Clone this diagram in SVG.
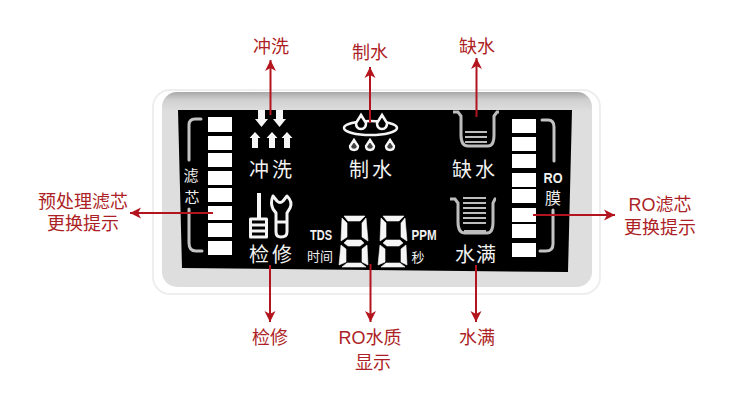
<svg xmlns="http://www.w3.org/2000/svg" width="750" height="406" viewBox="0 0 750 406">
<style>
.lbl{font-family:"Liberation Sans","Noto Sans CJK SC",sans-serif;font-size:18px;fill:#ad1f26;text-anchor:middle}
.lcd{font-family:"Noto Sans CJK SC",sans-serif;font-size:20px;fill:#f2f2f2;text-anchor:middle}
.lcds{font-family:"Noto Sans CJK SC",sans-serif;font-size:16px;fill:#eee;text-anchor:middle}
.lcdt{font-family:"Noto Sans CJK SC",sans-serif;font-size:13px;fill:#eee;text-anchor:middle}
.lat{font-family:"Liberation Sans",sans-serif;font-weight:700;fill:#f2f2f2;text-anchor:middle}
.b{fill:#fff}
.ln{fill:none;stroke:#c4c4c4;stroke-width:3;stroke-linecap:round;stroke-linejoin:round}
.tk{fill:none;stroke:#bdbdbd;stroke-width:3}
.ic{fill:none;stroke:#f4f4f4;stroke-width:3;stroke-linejoin:round}
.sf{fill:#f6f6f6}
.arr{stroke:#b3141d;stroke-width:2;fill:none}
</style>
<defs>
<marker id="ah" markerUnits="userSpaceOnUse" markerWidth="12" markerHeight="12" refX="11" refY="6" orient="auto"><path d="M0 0.500L11 6L0 11.500L3 6Z" fill="#b3141d"/></marker>
<linearGradient id="band" x1="0" y1="0" x2="0" y2="1"><stop offset="0" stop-color="#a8a8a8"/><stop offset=".04" stop-color="#d0d0d0"/><stop offset=".1" stop-color="#dedede"/><stop offset="1" stop-color="#dedede"/></linearGradient>
<g id="d8"><path class="sf" stroke="#f6f6f6" stroke-width=".6" d="M6 0H27L22 5H10ZM4 2L9 7V21L3 25ZM28 2L30 25L24 21V7ZM9 24H23L26 27L22 30H10L6 27ZM3 29L8 33V46L1 49ZM29 29L30 49L24 46V33ZM9 47H23L28 51H4Z"/></g>
</defs>
<rect width="750" height="406" fill="#fff"/>
<g id="panel">
<rect x="153" y="90" width="447" height="204" rx="17" fill="#fff" stroke="#eeeeee" stroke-width="2"/>
<rect x="162" y="92" width="430" height="195" rx="15" fill="url(#band)"/>
<path d="M178 110H572L568 272L182 268Z" fill="#000"/>
</g>
<g id="filter-left">
<g class="b"><rect x="208" y="117" width="24" height="15"/><rect x="208" y="136" width="24" height="14"/><rect x="208" y="153" width="24" height="14"/><rect x="208" y="171" width="24" height="14"/><rect x="208" y="188" width="24" height="14"/><rect x="208" y="206" width="24" height="14"/><rect x="208" y="223" width="24" height="14"/><rect x="208" y="241" width="24" height="14"/></g>
<path class="ln" d="M201 119H195Q189 119 189 125V160M189 209V243Q189 251 196 251H202"/>
<text class="lcds" x="191" y="181" style="font-size:15px">滤</text><text class="lcds" x="192" y="203" style="font-size:15px">芯</text>
</g>
<g id="filter-right">
<g class="b"><rect x="512" y="119" width="24" height="14"/><rect x="512" y="137" width="24" height="14"/><rect x="512" y="154" width="24" height="14"/><rect x="512" y="173" width="24" height="14"/><rect x="512" y="189" width="24" height="14"/><rect x="512" y="208" width="24" height="14"/><rect x="512" y="224" width="24" height="14"/><rect x="512" y="243" width="24" height="14"/></g>
<path class="ln" d="M542 120H548Q554 120 554 127V161M553 210V244Q553 251 546 251H540"/>
<text class="lat" x="553" y="183" font-size="15" textLength="19" lengthAdjust="spacingAndGlyphs">RO</text>
<text class="lcds" x="553" y="204">膜</text>
</g>
<g id="flush">
<path class="sf" d="M258 110H265V119H268L261.500 127L255 119H258ZM276 110H283V119H286L279.500 127L273 119H276ZM252 148V138H249.500L255 132L260.500 138H258V148ZM269 148V138H266.500L272 132L277.500 138H275V148ZM284 148V138H281.500L287 132L292.500 138H290V148Z"/>
<text class="lcd" x="272" y="177" letter-spacing="3">冲洗</text>
</g>
<g id="make-water">
<ellipse cx="370.500" cy="128" rx="26.500" ry="7" fill="none" stroke="#f4f4f4" stroke-width="2.600"/>
<path fill="#000" stroke="#f6f6f6" stroke-width="2.600" d="M361 115L366 123Q366 129 361 129Q356 129 356 123ZM382 115L387 123Q387 129 382 129Q377 129 377 123Z"/>
<path fill="#444" stroke="#f6f6f6" stroke-width="2.400" d="M354 140L358 146Q358 150 354 150Q350 150 350 146ZM370 140L374 146Q374 150 370 150Q366 150 366 146ZM390 140L394 146Q394 150 390 150Q386 150 386 146Z"/>
<text class="lcd" x="372" y="177" letter-spacing="3">制水</text>
</g>
<g id="low-water">
<path class="tk" d="M453 112H458L461 116V135Q461 146 468 146H488Q494 146 494 135V116L497 112H499"/>
<path class="tk" style="stroke-width:2" d="M465 132H487M465 137H487M465 142H487"/>
<text class="lcd" x="475" y="177" letter-spacing="3">缺水</text>
</g>
<g id="service">
<rect x="257" y="193" width="4" height="25" fill="#f6f6f6"/>
<path class="ic" d="M250.500 219H266.500V237H250.500ZM250.500 225H266.500M250.500 231H266.500"/>
<path class="ic" d="M273 196L277 201Q280 204 283 201L287 196Q293 202 290 208L287 213V232Q287 237 281 237Q276 237 276 232V213L273 209Q270 203 273 196ZM276 222H287"/>
<text class="lcd" x="272" y="262" letter-spacing="3">检修</text>
</g>
<g id="tds">
<use href="#d8" x="338" y="216"/><use href="#d8" x="377" y="216"/>
<text class="lat" x="321" y="240" font-size="14" textLength="22" lengthAdjust="spacingAndGlyphs">TDS</text>
<text class="lcdt" x="320" y="261">时间</text>
<text class="lat" x="424" y="240" font-size="14" textLength="25" lengthAdjust="spacingAndGlyphs">PPM</text>
<text class="lcdt" x="418" y="262">秒</text>
</g>
<g id="full-water">
<path class="tk" d="M450 199H455L458 203V222Q458 233 465 233H487Q493 233 493 222V203L495 199H496"/>
<path class="tk" style="stroke-width:2" d="M463 198H486M463 203H486M463 208H486M463 213H486M463 218H486M463 223H486M464 231H486"/>
<text class="lcd" x="476" y="262" letter-spacing="1">水满</text>
</g>
<g id="connectors">
<path class="arr" marker-end="url(#ah)" d="M270.500 115V60"/>
<path class="arr" marker-end="url(#ah)" d="M370 123V67"/>
<path class="arr" marker-end="url(#ah)" d="M476.500 117V58"/>
<path class="arr" marker-end="url(#ah)" d="M270 265V322"/>
<path class="arr" marker-end="url(#ah)" d="M370.500 264V322"/>
<path class="arr" marker-end="url(#ah)" d="M476 265V322"/>
<path class="arr" marker-end="url(#ah)" d="M213 213H130"/>
<path class="arr" marker-end="url(#ah)" d="M533 215H615"/>
</g>
<g id="labels">
<text class="lbl" x="271" y="53">冲洗</text>
<text class="lbl" x="370" y="59">制水</text>
<text class="lbl" x="477" y="53">缺水</text>
<text class="lbl" x="270" y="344">检修</text>
<text class="lbl" x="370" y="344">RO水质</text>
<text class="lbl" x="373" y="369">显示</text>
<text class="lbl" x="477" y="344">水满</text>
<text class="lbl" x="83" y="208">预处理滤芯</text>
<text class="lbl" x="83" y="230">更换提示</text>
<text class="lbl" x="660" y="211">RO滤芯</text>
<text class="lbl" x="660" y="234">更换提示</text>
</g>
</svg>
